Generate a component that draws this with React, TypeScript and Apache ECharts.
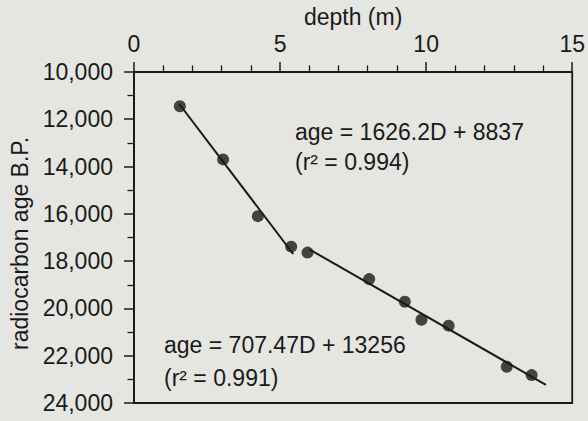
import React, { useEffect, useRef } from "react";
import * as echarts from "echarts";

const depths = [1.57, 3.05, 4.24, 5.38, 5.94, 8.05, 9.27, 9.84, 10.77, 12.76, 13.61];
const ages = [11450, 13700, 16100, 17390, 17640, 18760, 19720, 20480, 20730, 22470, 22820];
const fitSlopes = [1626.2, 707.47];
const fitIntercepts = [8837, 13256];
const fitStarts = [1.55, 6.0];
const fitEnds = [5.45, 14.1];
const fitEquations = ["age = 1626.2D + 8837", "age = 707.47D + 13256"];
const fitR2 = ["(r² = 0.994)", "(r² = 0.991)"];

const INK = "#1a1a1a";
const FONT = "Liberation Sans";
const FS = 23;

export default function App() {
  const ref = useRef<HTMLDivElement>(null);
  useEffect(() => {
    if (!ref.current) return;
    const chart = echarts.init(ref.current, undefined, { renderer: "svg" });
    const fitSeries = fitSlopes.map((m, i) => ({
      type: "line",
      showSymbol: false,
      silent: true,
      lineStyle: { color: INK, width: 2 },
      data: [fitStarts[i], fitEnds[i]].map((d) => [d, m * d + fitIntercepts[i]]),
      z: 2,
    }));
    const labelStyle = { fill: INK, fontSize: FS, fontFamily: FONT };
    chart.setOption({
      animation: false,
      backgroundColor: "#e5e5e1",
      textStyle: { fontFamily: FONT },
      grid: { left: 134, right: 14, top: 69, bottom: 18, show: true, borderColor: INK, borderWidth: 1.8, backgroundColor: "transparent" },
      xAxis: {
        type: "value",
        position: "top",
        min: 0,
        max: 15,
        interval: 5,
        name: "depth (m)",
        nameLocation: "middle",
        nameGap: 42,
        nameTextStyle: { fontSize: FS, color: INK, fontFamily: FONT },
        axisLine: { show: true, lineStyle: { color: INK, width: 1.8 } },
        axisTick: { show: true, length: 10, lineStyle: { color: INK, width: 1.5 } },
        minorTick: { show: true, splitNumber: 5, length: 6.5, lineStyle: { color: INK, width: 1.3 } },
        splitLine: { show: false },
        axisLabel: { fontSize: FS, color: INK, margin: 16, fontFamily: FONT },
      },
      yAxis: {
        type: "value",
        inverse: true,
        min: 10000,
        max: 24000,
        interval: 2000,
        name: "radiocarbon age B.P.",
        nameLocation: "middle",
        nameGap: 102,
        nameTextStyle: { fontSize: FS, color: INK, fontFamily: FONT, padding: [0, 12, 0, 0] },
        axisLine: { show: true, lineStyle: { color: INK, width: 1.8 } },
        axisTick: { show: true, length: 10, lineStyle: { color: INK, width: 1.5 } },
        minorTick: { show: true, splitNumber: 2, length: 6.5, lineStyle: { color: INK, width: 1.3 } },
        splitLine: { show: false },
        axisLabel: {
          fontSize: FS,
          color: INK,
          margin: 21,
          fontFamily: FONT,
          formatter: (v: number) => v.toLocaleString("en-US"),
        },
      },
      series: [
        ...fitSeries,
        {
          type: "scatter",
          symbol: "circle",
          symbolSize: 12,
          itemStyle: { color: INK },
          data: depths.map((d, i) => [d, ages[i]]),
          z: 3,
        },
      ],
      graphic: [
        { type: "text", left: 295, top: 120, style: { ...labelStyle, text: fitEquations[0] } },
        { type: "text", left: 295, top: 150, style: { ...labelStyle, text: fitR2[0] } },
        { type: "text", left: 164, top: 333, style: { ...labelStyle, text: fitEquations[1] } },
        { type: "text", left: 164, top: 366, style: { ...labelStyle, text: fitR2[1] } },
      ],
    });
    return () => chart.dispose();
  }, []);
  return <div ref={ref} style={{ position: "fixed", left: 0, top: 0, width: 588, height: 421 }} />;
}
